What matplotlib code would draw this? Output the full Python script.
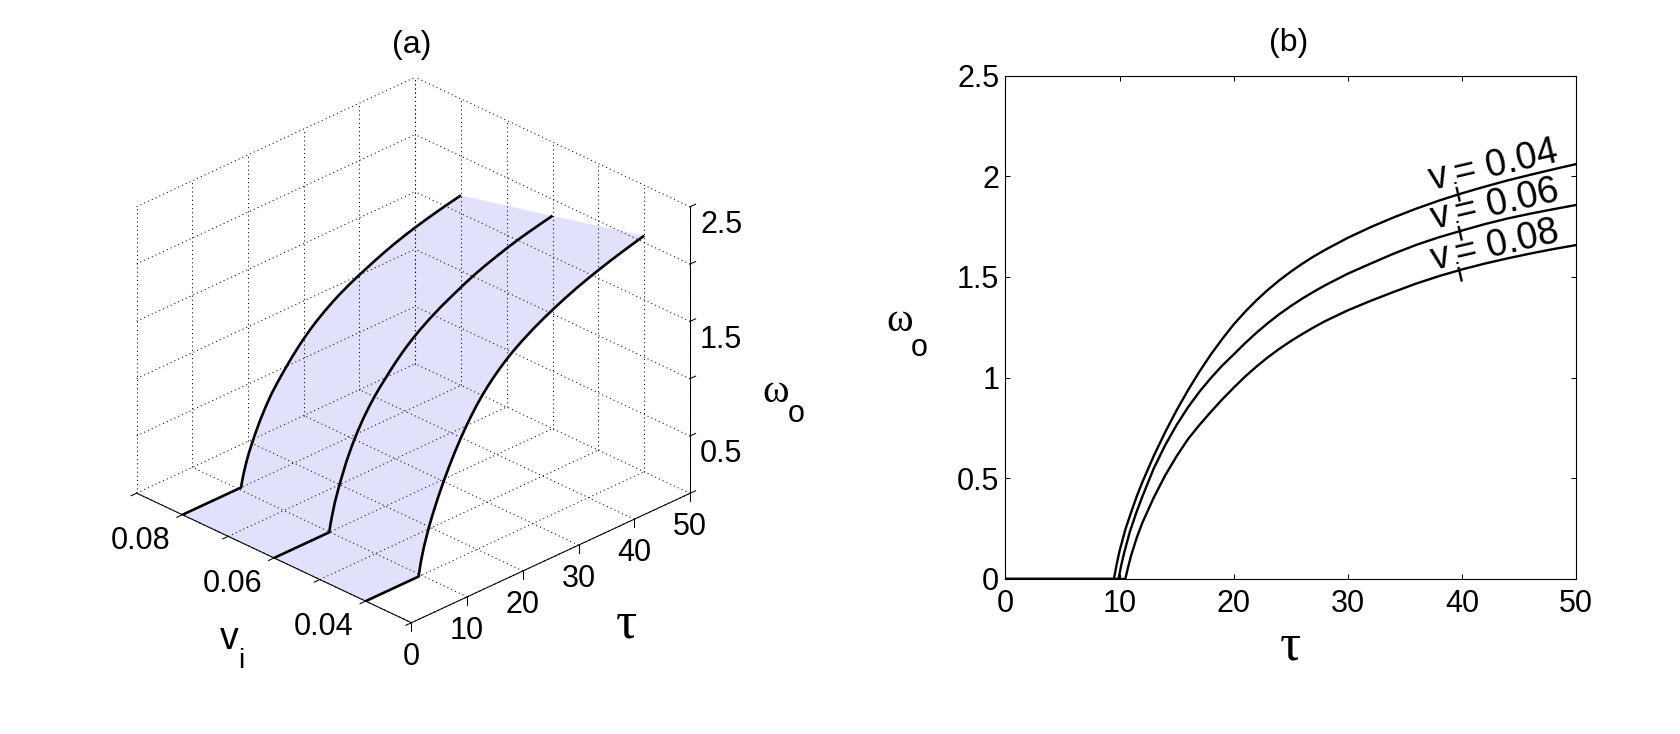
import numpy as np
import matplotlib
matplotlib.use("Agg")
import matplotlib.pyplot as plt
from mpl_toolkits.mplot3d.art3d import Poly3DCollection

plt.rcParams['font.family'] = 'Liberation Sans'

# curves, each one starts flat at zero
tau_04 = [0, 9.5, 9.75, 10, 10.5, 11, 11.5, 12, 13, 14, 15, 16, 17, 18, 19, 20, 21, 22, 23, 24, 25, 26, 27, 28,
          30, 32, 34, 36, 38, 40, 42, 44, 46, 48, 50]
om_04 = [0, 0, 0.075, 0.14, 0.245, 0.33, 0.41, 0.482, 0.612, 0.73, 0.838, 0.938, 1.03, 1.115, 1.192, 1.264, 1.327,
         1.384, 1.436, 1.483, 1.526, 1.565, 1.601, 1.634, 1.694, 1.747, 1.795, 1.839, 1.879, 1.915, 1.948, 1.979,
         2.007, 2.034, 2.06]
tau_06 = [0, 9.9, 10.15, 10.4, 10.9, 11.5, 12, 13, 14, 15, 16, 17, 18, 19, 20, 21, 22, 23, 24, 25, 26, 27, 28,
          30, 32, 34, 36, 38, 40, 42, 44, 46, 48, 50]
om_06 = [0, 0, 0.07, 0.13, 0.235, 0.335, 0.41, 0.55, 0.665, 0.765, 0.853, 0.93, 0.998, 1.06, 1.115, 1.171, 1.223,
         1.271, 1.315, 1.355, 1.392, 1.426, 1.458, 1.516, 1.566, 1.615, 1.659, 1.697, 1.73, 1.762, 1.79, 1.814,
         1.836, 1.857]
tau_08 = [0, 10.5, 10.75, 11, 11.5, 12, 13, 14, 15, 16, 17, 18, 19, 20, 21, 22, 23, 24, 25, 26, 27, 28,
          30, 32, 34, 36, 38, 40, 42, 44, 46, 48, 50]
om_08 = [0, 0, 0.06, 0.115, 0.205, 0.28, 0.405, 0.515, 0.61, 0.695, 0.765, 0.83, 0.892, 0.95, 1.005, 1.055, 1.101,
         1.143, 1.181, 1.216, 1.249, 1.28, 1.334, 1.381, 1.425, 1.467, 1.504, 1.537, 1.566, 1.592, 1.616, 1.638,
         1.658]

v_vals = [0.04, 0.06, 0.08]
curves = [(tau_04, om_04), (tau_06, om_06), (tau_08, om_08)]

tau_ticks = [0, 10, 20, 30, 40, 50]
v_ticks = [0.03, 0.04, 0.05, 0.06, 0.07, 0.08, 0.09]
om_ticks = [0, 0.5, 1, 1.5, 2, 2.5]
v_labels = ['0.04', '0.06', '0.08']
z_labels = ['0.5', '1.5', '2.5']
om_labels = ['0', '0.5', '1', '1.5', '2', '2.5']
curve_labels = ['= 0.04', '= 0.06', '= 0.08']
label_tau = [37.16, 37.3, 37.3]
label_om = [1.927, 1.733, 1.53]

W, H = 1681, 734
fig = plt.figure(figsize=(W / 100, H / 100), dpi=100, facecolor='white')


def figtext(x, y, s, **kw):
    # x, y in pixels from the top left corner
    fig.text(x / W, 1 - y / H, s, ha='center', va='center', **kw)


# ---------------- panel (a) ----------------
side = 622.6
ax3 = fig.add_axes([93.6 / W, 64.3 / H, side / W, side / H], projection='3d', proj_type='ortho')
ax3.set_box_aspect((392.4, 390.1, 324.2))
ax3.view_init(elev=27.9, azim=-134.79)
ax3.set_xlim(0, 50, view_margin=0)
ax3.set_ylim(0.03, 0.09, view_margin=0)
ax3.set_zlim(0, 2.5, view_margin=0)
ax3.set_axis_off()
ax3.computed_zorder = False
ax3.patch.set_alpha(0)

# shaded strips between neighbouring curves
for i in range(2):
    t1, w1 = curves[i]
    t2, w2 = curves[i + 1]
    verts = [(t, v_vals[i], w) for t, w in zip(t1, w1)] + [(t, v_vals[i + 1], w) for t, w in zip(t2[::-1], w2[::-1])]
    poly = Poly3DCollection([verts], facecolor='#e1e1fb', edgecolor='#e1e1fb', linewidth=0.3, zorder=1)
    ax3.add_collection3d(poly)

dots = dict(color='k', lw=0.75, ls=(0, (1, 3)), zorder=2)
for t in tau_ticks:
    ax3.plot([t, t], [0.03, 0.09], [0, 0], **dots)
    ax3.plot([t, t], [0.09, 0.09], [0, 2.5], **dots)
for v in v_ticks:
    ax3.plot([0, 50], [v, v], [0, 0], **dots)
    ax3.plot([50, 50], [v, v], [0, 2.5], **dots)
for z in om_ticks[1:]:
    ax3.plot([0, 50], [0.09, 0.09], [z, z], **dots)
    ax3.plot([50, 50], [0.03, 0.09], [z, z], **dots)

for v, (t, w) in zip(v_vals, curves):
    ax3.plot(t, [v] * len(t), w, color='k', lw=1.9, zorder=3, solid_capstyle='butt')

# axis lines and their ticks
solid = dict(color='k', lw=0.75, zorder=4)
ax3.plot([0, 50], [0.03, 0.03], [0, 0], **solid)
ax3.plot([0, 0], [0.03, 0.09], [0, 0], **solid)
ax3.plot([50, 50], [0.03, 0.03], [0, 2.5], **solid)
for t in tau_ticks:
    ax3.plot([t, t], [0.03, 0.03], [0, -0.07], **solid)
    ax3.text(t, 0.03, -0.295, str(t), fontsize=22, ha='center', va='center')
for v in v_ticks:
    ax3.plot([0, -1], [v, v], [0, 0], **solid)
for z in om_ticks:
    ax3.plot([50, 51], [0.03, 0.03], [z, z], **solid)
for v, s in zip(v_vals, v_labels):
    ax3.text(-7.5, v, -0.06, s, fontsize=22, ha='center', va='center')
for z, s in zip([0.5, 1.5, 2.5], z_labels):
    ax3.text(50, 0.0232, z - 0.03, s, fontsize=22, ha='center', va='center')

figtext(412, 45, '(a)', fontsize=23)
figtext(626, 624, '\u03c4', fontsize=38, family='Liberation Serif')
figtext(229, 639, 'v', fontsize=27)
figtext(241, 661, 'i', fontsize=20)
figtext(776, 392, '\u03c9', fontsize=29, family='Liberation Serif')
figtext(796.5, 414, 'o', fontsize=22)

# ---------------- panel (b) ----------------
ax = fig.add_axes([1005.5 / W, (H - 579) / H, 570.5 / W, 503.5 / H])
for t, w in curves:
    ax.plot(t, w, color='k', lw=1.7)
ax.set_xlim(0, 50)
ax.set_ylim(0, 2.5)
ax.set_xticks(tau_ticks)
ax.set_yticks(om_ticks)
ax.set_yticklabels(om_labels)
ax.tick_params(direction='in', top=True, right=True, length=3.8, width=0.75, labelsize=22)
ax.tick_params(axis='x', pad=7.5)
ax.tick_params(axis='y', pad=4.5)
for sp in ax.spines.values():
    sp.set_linewidth(0.8)

# v, subscript i and the value are separate so the big low i can cross the curve
rot = 13
ca, sa = np.cos(np.radians(rot)), np.sin(np.radians(rot))
for s, t, w in zip(curve_labels, label_tau, label_om):
    tx = dict(xy=(t, w), textcoords='offset points', rotation=rot, rotation_mode='anchor', ha='left', va='baseline')
    ax.annotate('v', xytext=(2 * ca, 2 * sa), fontsize=27, **tx)
    ax.annotate('i', xytext=(17 * ca + 12 * sa, 17 * sa - 12 * ca), fontsize=20, **tx)
    ax.annotate(s, xytext=(20 * ca, 20 * sa), fontsize=27, **tx)

figtext(1289, 43, '(b)', fontsize=23)
figtext(1290, 647, '\u03c4', fontsize=38, family='Liberation Serif')
figtext(900, 322, '\u03c9', fontsize=29, family='Liberation Serif')
figtext(919, 348, 'o', fontsize=22)

fig.savefig('out.png', dpi=100)
